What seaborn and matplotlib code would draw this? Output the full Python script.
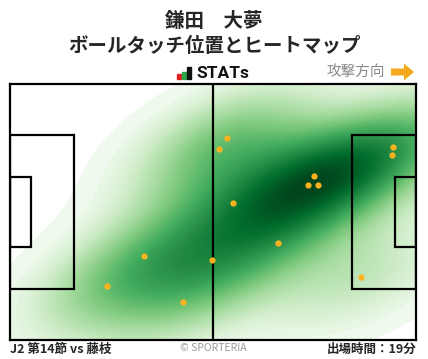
import matplotlib
matplotlib.use("Agg")
import matplotlib.pyplot as plt
import matplotlib.patches as patches
from matplotlib.colors import PowerNorm
import seaborn as sns
import numpy as np

# ball touch positions (pitch 105 x 68, y measured from top edge)
touch_x = [56.1, 54.1, 57.7, 69.3, 52.2, 34.7, 25.1, 44.7, 78.6, 77.1, 79.7, 99.1, 98.8, 90.8]
touch_y = [14.3, 17.3, 31.6, 42.2, 46.8, 45.7, 53.7, 57.9, 24.4, 26.8, 26.8, 16.7, 18.9, 51.3]

player = "鎌田　大夢"
subtitle = "ボールタッチ位置とヒートマップ"
match_label = "J2 第14節 vs 藤枝"
minutes_label = "出場時間：19分"

sns.set_style("white")
plt.rcParams['font.family'] = ['Noto Sans CJK JP', 'DejaVu Sans']

fig = plt.figure(figsize=(4.28, 3.59), dpi=100)
W, H = 428, 359
ax = fig.add_axes([10 / W, (H - 340) / H, 406 / W, 256 / H])

#heatmap
sns.kdeplot(x=touch_x, y=touch_y, fill=True, cmap="Greens", levels=100, thresh=0.004,
            bw_adjust=1.12, cut=20, clip=((0, 105), (0, 68)), ax=ax,
            norm=PowerNorm(gamma=0.8))

# pitch lines
lw = 1.6
ax.plot([52.5, 52.5], [0, 68], color="black", lw=lw)
for x0, w in [(0, 16.5), (105 - 16.5, 16.5)]:
    ax.add_patch(patches.Rectangle((x0, 68 / 2 - 20.5), w, 41, fill=False, ec="black", lw=lw))
for x0, w in [(0, 5.5), (105 - 5.5, 5.5)]:
    ax.add_patch(patches.Rectangle((x0, 68 / 2 - 9.2), w, 18.4, fill=False, ec="black", lw=lw))

ax.scatter(touch_x, touch_y, s=20, color="#FFB21E", zorder=5, linewidths=0)

ax.set_xlim(0, 105)
ax.set_ylim(68, 0)
ax.set_xticks([])
ax.set_yticks([])
ax.set_xlabel("")
ax.set_ylabel("")
for s in ax.spines.values():
    s.set_visible(True)
    s.set_linewidth(lw)
    s.set_color("black")

# header
fig.text(0.5, 1 - 21 / H, player, ha="center", va="center", fontsize=14, fontweight="bold")
fig.text(0.5, 1 - 46 / H, subtitle, ha="center", va="center", fontsize=14, fontweight="bold")

# STATs logo
for bx, bh, c in [(177, 5, "#E02020"), (182, 7, "#2AA84A"), (187, 12, "#111111")]:
    fig.add_artist(patches.Rectangle((bx / W, 1 - 79 / H), 4 / W, bh / H, color=c))
fig.text(196 / W, 1 - 73 / H, "STATs", ha="left", va="center", fontsize=12.5,
         fontweight="bold", family=["Roboto", "DejaVu Sans"], color="#111111")

fig.text(385 / W, 1 - 72 / H, "攻撃方向", ha="right", va="center", fontsize=10.5, color="#888888")
fig.add_artist(patches.FancyArrow(391 / W, 1 - 72 / H, 13 / W, 0, width=7 / H,
                                  head_width=17 / H, head_length=10 / W,
                                  length_includes_head=False, color="#F5A81C", lw=0))

# footer
fig.text(10 / W, 1 - 349 / H, match_label, ha="left", va="center", fontsize=9, fontweight="bold")
fig.text(213 / W, 1 - 348 / H, "© SPORTERIA", ha="center", va="center", fontsize=7.5, color="#999999")
fig.text(416 / W, 1 - 349 / H, minutes_label, ha="right", va="center", fontsize=9, fontweight="bold")

fig.savefig("out.png", dpi=100)
